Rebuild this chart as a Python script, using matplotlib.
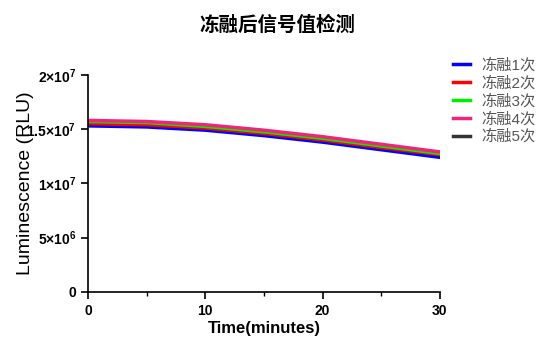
import matplotlib
matplotlib.use("Agg")
import matplotlib.pyplot as plt
from matplotlib.ticker import FuncFormatter, MultipleLocator

plt.rcParams["font.family"] = ["Liberation Sans", "Noto Sans CJK SC"]
plt.rcParams["mathtext.fontset"] = "custom"
plt.rcParams["mathtext.rm"] = "Liberation Sans:bold"
plt.rcParams["mathtext.bf"] = "Liberation Sans:bold"

# 数据（单位：RLU）
time_min = [0, 5, 10, 15, 20, 25, 30]
labels = ["冻融1次", "冻融2次", "冻融3次", "冻融4次", "冻融5次"]
colors = ["#0000FF", "#FF0000", "#00EE00", "#F0247A", "#333333"]
series = [
    [1.530e7, 1.520e7, 1.490e7, 1.440e7, 1.380e7, 1.310e7, 1.240e7],
    [1.550e7, 1.540e7, 1.510e7, 1.460e7, 1.400e7, 1.330e7, 1.265e7],
    [1.570e7, 1.560e7, 1.525e7, 1.475e7, 1.415e7, 1.345e7, 1.275e7],
    [1.580e7, 1.570e7, 1.540e7, 1.490e7, 1.430e7, 1.360e7, 1.290e7],
    [1.540e7, 1.530e7, 1.500e7, 1.450e7, 1.390e7, 1.320e7, 1.250e7],
]
draw_order = [4, 0, 1, 2, 3]

fig = plt.figure(figsize=(5.54, 3.53), dpi=100)
ax = fig.add_axes([0.159, 0.173, 0.635, 0.615])

handles = {}
for i in draw_order:
    (ln,) = ax.plot(time_min, series[i], color=colors[i], lw=2.5, label=labels[i])
    handles[i] = ln

ax.set_xlim(0, 30)
ax.set_ylim(0, 2e7)
ax.xaxis.set_major_locator(MultipleLocator(10))
ax.xaxis.set_minor_locator(MultipleLocator(5))
ax.yaxis.set_major_locator(MultipleLocator(5e6))


def sci_fmt(v, pos):
    if v == 0:
        return "0"
    exp = len(str(int(v))) - 1
    mant = v / 10**exp
    m = f"{mant:g}"
    return rf"${m}{{\times}}10^{{{exp}}}$"


ax.yaxis.set_major_formatter(FuncFormatter(sci_fmt))
for s in ["top", "right"]:
    ax.spines[s].set_visible(False)
for s in ["left", "bottom"]:
    ax.spines[s].set_linewidth(1.2)
ax.tick_params(axis="both", which="major", length=5, width=1.2, labelsize=10)
ax.tick_params(axis="both", which="minor", length=3, width=1.0)
for t in ax.get_xticklabels() + ax.get_yticklabels():
    t.set_fontweight("bold")

ax.set_xlabel("Time(minutes)", fontsize=12, fontweight="bold", labelpad=2)
ax.set_ylabel("Luminescence (RLU)", fontsize=14)
ax.yaxis.set_label_coords(-0.153, 0.5)
fig.text(0.5, 0.929, "冻融后信号值检测", fontsize=14, fontweight="bold",
         ha="center", va="center")

leg = fig.legend(
    [handles[i] for i in range(5)],
    labels,
    loc="upper left",
    bbox_to_anchor=(0.793, 0.875),
    frameon=False,
    fontsize=11,
    handlelength=1.1,
    handletextpad=0.75,
    labelspacing=0.22,
)
for t in leg.get_texts():
    t.set_color("#555555")

fig.savefig("out.png", dpi=100)
